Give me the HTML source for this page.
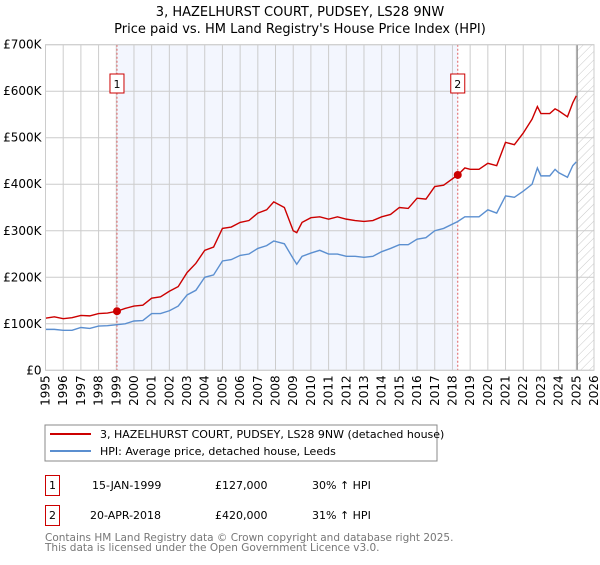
<!DOCTYPE html>
<html><head><meta charset="utf-8"><style>
body{margin:0;background:#fff;width:600px;height:560px;overflow:hidden}
svg{font-family:"DejaVu Sans","Liberation Sans",sans-serif}
</style></head><body>
<svg id="c" width="600" height="560">
<defs><pattern id="h" width="6" height="6" patternUnits="userSpaceOnUse" patternTransform="rotate(45)"><line x1="0" y1="0" x2="0" y2="6" stroke="#bbb" stroke-width="0.8"/></pattern></defs>
<text x="300" y="16" text-anchor="middle" font-size="13">3, HAZELHURST COURT, PUDSEY, LS28 9NW</text>
<text x="300" y="33" text-anchor="middle" font-size="13">Price paid vs. HM Land Registry's House Price Index (HPI)</text>
<g id="plot"></g>
<rect x="45" y="425" width="392" height="36" fill="#fff" stroke="#888"/>
<line x1="50" y1="434" x2="91" y2="434" stroke="#cc0000" stroke-width="2"/>
<text x="100" y="438" font-size="11">3, HAZELHURST COURT, PUDSEY, LS28 9NW (detached house)</text>
<line x1="50" y1="451" x2="91" y2="451" stroke="#5b8fd0" stroke-width="2"/>
<text x="100" y="455" font-size="11">HPI: Average price, detached house, Leeds</text>
<g font-size="11">
<rect x="45.5" y="475.5" width="14" height="20" fill="#fff" stroke="#cc0000"/>
<text x="52.5" y="489" text-anchor="middle">1</text>
<text x="92" y="489">15-JAN-1999</text>
<text x="215" y="489">£127,000</text>
<text x="312" y="489">30% ↑ HPI</text>
<rect x="45.5" y="505.5" width="14" height="20" fill="#fff" stroke="#cc0000"/>
<text x="52.5" y="519" text-anchor="middle">2</text>
<text x="90" y="519">20-APR-2018</text>
<text x="215" y="519">£420,000</text>
<text x="312" y="519">31% ↑ HPI</text>
</g>
<text x="45" y="541" font-size="10.5" fill="#777">Contains HM Land Registry data © Crown copyright and database right 2025.</text>
<text x="45" y="551" font-size="10.5" fill="#777">This data is licensed under the Open Government Licence v3.0.</text>
</svg>
<script>
const yearTicks=[1995,1996,1997,1998,1999,2000,2001,2002,2003,2004,2005,2006,2007,2008,2009,2010,2011,2012,2013,2014,2015,2016,2017,2018,2019,2020,2021,2022,2023,2024,2025,2026];
const valueTicks=[0,100,200,300,400,500,600,700];
const valueLabels=["£0","£100K","£200K","£300K","£400K","£500K","£600K","£700K"];
const redT=[1995,1995.5,1996,1996.5,1997,1997.5,1998,1998.5,1999.04,1999.5,2000,2000.5,2001,2001.5,2002,2002.5,2003,2003.5,2004,2004.5,2005,2005.5,2006,2006.5,2007,2007.5,2007.9,2008.5,2009,2009.2,2009.5,2010,2010.5,2011,2011.5,2012,2012.5,2013,2013.5,2014,2014.5,2015,2015.5,2016,2016.5,2017,2017.5,2018.3,2018.7,2019,2019.5,2020,2020.5,2021,2021.5,2022,2022.5,2022.8,2023,2023.5,2023.8,2024,2024.5,2024.8,2025];
const redV=[112,115,111,113,118,117,122,123,127,133,138,140,155,158,170,180,210,230,258,265,305,308,318,322,338,345,362,350,300,296,318,328,330,325,330,325,322,320,322,330,335,350,348,370,368,395,398,420,435,432,432,445,440,490,485,510,540,567,552,552,562,558,545,575,590];
const blueT=redT;
const blueV=[88,88,86,86,92,90,95,96,98,100,106,107,122,122,128,138,162,172,200,205,235,238,247,250,262,268,278,272,240,228,245,252,258,250,250,245,245,243,245,255,262,270,270,282,285,300,305,320,330,330,330,345,338,375,372,385,400,435,418,418,432,425,415,440,448];
const saleT=[1999.04,2018.3];
const saleV=[127,420];
const X0=45.5,X1=594,Y0=370.3,Y1=44.7;
const x=t=>X0+(t-1995)*(X1-X0)/31;
const y=v=>Y0-v*(Y0-Y1)/700;
const g=document.getElementById('plot');
const NS='http://www.w3.org/2000/svg';
function mk(tag,at){const e=document.createElementNS(NS,tag);for(const k in at)e.setAttribute(k,at[k]);g.appendChild(e);return e;}
let e;
e=mk('rect',{x:x(saleT[0]),y:Y1,width:x(saleT[1])-x(saleT[0]),height:Y0-Y1,fill:'#f3f6fe'});


e=mk('rect',{x:x(2025.05),y:Y1,width:X1-x(2025.05),height:Y0-Y1,fill:'url(#h)'});


yearTicks.forEach(t=>{
 e=mk('line',{x1:x(t),x2:x(t),y1:Y1,y2:Y0,stroke:'#ccc','stroke-width':1});
 
 
 e=mk('text',{x:0,y:0,'font-size':12,'text-anchor':'end',transform:`translate(${x(t)+4},${Y0+5}) rotate(-90)`});
 e.textContent=t;
 
 
});
valueTicks.forEach((v,i)=>{
 e=mk('line',{x1:X0,x2:X1,y1:y(v),y2:y(v),stroke:'#ccc','stroke-width':1});
 
 
 e=mk('text',{x:X0-4,y:y(v)+4,'font-size':12,'text-anchor':'end'});
 e.textContent=valueLabels[i];
 
 
});
e=mk('line',{x1:x(2025.05),x2:x(2025.05),y1:Y1,y2:Y0,stroke:'#888','stroke-width':1.2});


saleT.forEach((t,i)=>{
 e=mk('line',{x1:x(t),x2:x(t),y1:Y1,y2:Y0,stroke:'#e06060','stroke-width':1,'stroke-dasharray':'2,2'});
 
 
 e=mk('rect',{x:x(t)-7,y:74,width:14,height:19,fill:'#fff',stroke:'#cc0000'});
 
 
 e=mk('text',{x:x(t),y:88,'font-size':11,'text-anchor':'middle'});
 e.textContent=String(i+1);
 
 
});
e=mk('polyline',{points:blueT.map((t,i)=>x(t)+','+y(blueV[i])).join(' '),fill:'none',stroke:'#5b8fd0','stroke-width':1.4});


e=mk('polyline',{points:redT.map((t,i)=>x(t)+','+y(redV[i])).join(' '),fill:'none',stroke:'#cc0000','stroke-width':1.4});


saleT.forEach((t,i)=>{
 e=mk('circle',{cx:x(t),cy:y(saleV[i]),r:4,fill:'#cc0000'});
 
 
});
e=mk('rect',{x:X0,y:Y1,width:X1-X0,height:Y0-Y1,fill:'none',stroke:'#ccc'});


</script>
</body></html>
